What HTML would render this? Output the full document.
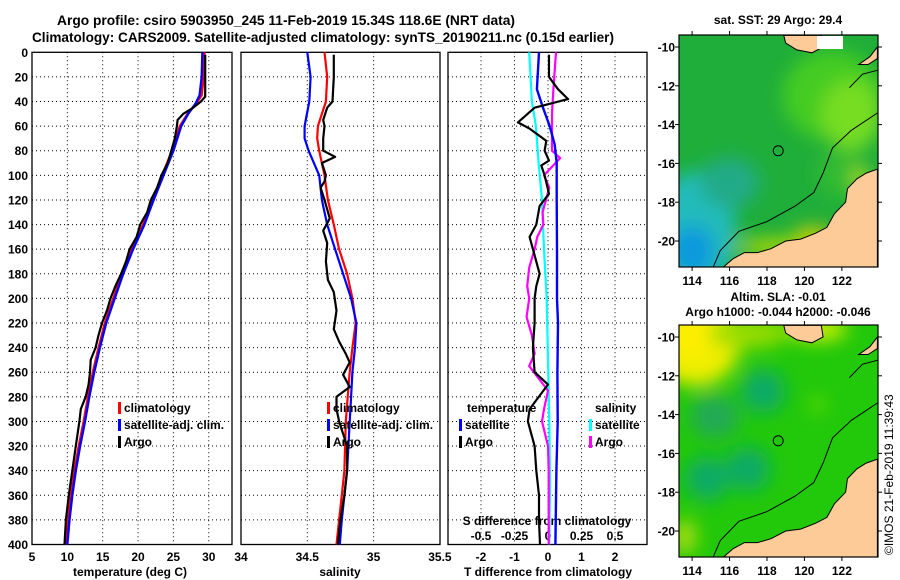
<!DOCTYPE html>
<html><head><meta charset="utf-8"><style>
html,body{margin:0;padding:0;background:#fff;}
svg{display:block;font-family:"Liberation Sans",sans-serif;font-weight:bold;}
</style></head><body>
<svg id="fig" width="900" height="580" viewBox="0 0 900 580" xmlns="http://www.w3.org/2000/svg">
<text x="57" y="25" font-size="13.5" textLength="458" lengthAdjust="spacingAndGlyphs">Argo profile: csiro 5903950_245 11-Feb-2019 15.34S 118.6E (NRT data)</text>
<text x="32" y="42" font-size="13.5" textLength="582" lengthAdjust="spacingAndGlyphs">Climatology: CARS2009. Satellite-adjusted climatology: synTS_20190211.nc (0.15d earlier)</text>
<text x="778" y="24" font-size="12" text-anchor="middle">sat. SST: 29 Argo: 29.4</text>
<text x="778" y="301" font-size="12" text-anchor="middle">Altim. SLA: -0.01</text>
<text x="778" y="316" font-size="12" text-anchor="middle">Argo h1000: -0.044 h2000: -0.046</text>
<text transform="translate(893,555) rotate(-90)" font-size="12" font-weight="normal">©IMOS 21-Feb-2019 11:39:43</text>
<g id="plots"></g>
<g id="maps"></g>
</svg>
<script>
// ---------- data ----------
const depthTicks = [0,20,40,60,80,100,120,140,160,180,200,220,240,260,280,300,320,340,360,380,400];
const tTicks = [5,10,15,20,25,30];
const sTicks = [34,34.5,35,35.5];
const sTickLabels = ["34","34.5","35","35.5"];
const dTTicks = [-2,-1,0,1,2];
const dSTicks = [-0.5,-0.25,0,0.25,0.5];
const dSTickLabels = ["-0.5","-0.25","0","0.25","0.5"];

const climTDepth = [0,20,35,42,50,60,80,100,120,140,160,180,200,220,240,260,280,300,320,340,360,380,400];
const climT = [29.4,29.3,29.0,28.2,27.0,25.9,24.8,23.4,22.0,20.7,19.1,17.7,16.5,15.3,14.4,13.6,12.9,12.3,11.6,11.0,10.5,10.1,9.8];
const satT = [29.1,29.0,28.7,28.1,27.1,26.1,25.0,23.6,22.2,20.9,19.3,17.9,16.7,15.5,14.6,13.8,13.1,12.5,11.8,11.2,10.7,10.3,10.0];
const argoTDepth = [2,20,36,40,45,50,55,60,70,80,90,100,110,120,130,140,150,160,170,180,190,200,210,220,230,240,250,260,270,280,290,300,320,340,360,380,400];
const argoT = [29.5,29.5,29.5,28.9,27.8,26.4,25.6,25.5,25.2,24.7,24.2,23.3,22.7,21.8,21.3,20.3,19.8,18.8,18.3,17.6,16.8,16.1,15.6,14.9,14.4,14.0,13.3,13.2,13.0,12.6,11.9,11.7,11.2,10.7,10.2,9.8,9.6];

const climSDepth = [0,20,40,60,70,80,100,120,140,160,180,200,220,240,260,280,300,320,340,360,380,400];
const climS = [34.63,34.65,34.64,34.58,34.575,34.59,34.63,34.655,34.70,34.74,34.80,34.84,34.865,34.84,34.82,34.805,34.79,34.785,34.78,34.76,34.74,34.72];
const satS = [34.50,34.525,34.515,34.48,34.48,34.51,34.59,34.61,34.65,34.71,34.77,34.83,34.87,34.86,34.84,34.83,34.82,34.81,34.80,34.78,34.76,34.745];
const argoSDepth = [2,20,40,45,55,60,70,80,85,90,100,105,110,120,135,145,155,170,185,195,210,225,235,245,252,262,272,280,290,300,310,320,340,360,380,400];
const argoS = [34.70,34.70,34.69,34.65,34.62,34.63,34.62,34.62,34.71,34.61,34.64,34.63,34.60,34.63,34.67,34.62,34.65,34.64,34.655,34.70,34.72,34.70,34.74,34.79,34.82,34.77,34.82,34.72,34.72,34.74,34.77,34.80,34.80,34.78,34.75,34.73];

const dTDepth = [2,10,20,30,38,45,57,62,72,80,88,92,100,115,125,140,150,165,180,190,200,220,240,260,270,290,300,320,340,360,380,400];
const argoDT = [0.03,0.03,0.03,0.3,0.6,-0.4,-0.9,-0.55,-0.05,-0.1,0.03,-0.2,-0.1,0.03,-0.25,-0.35,-0.55,-0.4,-0.25,-0.35,-0.4,-0.4,-0.45,-0.4,0,-0.55,-0.6,-0.4,-0.35,-0.27,-0.27,-0.24];
const satDTDepth = [0,30,45,60,75,90,120,160,200,220,260,300,340,400];
const satDT = [-0.27,-0.33,-0.15,0.05,0.2,0.26,0.26,0.27,0.27,0.3,0.28,0.29,0.25,0.22];
const satDSDepth = [0,40,60,90,120,160,200,300,350,400];
const satDS = [-0.14,-0.12,-0.09,-0.07,-0.045,-0.03,-0.01,0.01,0.015,0.01];
const argoDSDepth = [0,30,50,80,86,100,110,130,140,150,160,175,190,200,215,230,245,255,270,275,290,300,320,340,400];
const argoDS = [0.06,0.04,0.03,0.03,0.09,-0.03,0.01,-0.04,-0.035,-0.08,-0.1,-0.14,-0.155,-0.14,-0.16,-0.12,-0.1,-0.14,-0.035,0,-0.03,-0.045,0,0.005,0.005];

// ---------- helpers ----------
const NS = "http://www.w3.org/2000/svg";
const plots = document.getElementById('plots');
function el(tag, attrs, parent){ const e=document.createElementNS(NS,tag); for(const k in attrs) e.setAttribute(k,attrs[k]); (parent||plots).appendChild(e); return e; }
const yTop = 52.3, yBot = 544.5;
function yD(d){ return yTop + d*(yBot-yTop)/400; }
const p1 = {x0:32, x1:232}; const xT = t => 32 + (t-5)*7.07;
const p2 = {x0:241, x1:440}; const xS = s => 241 + (s-34)*132.6;
const p3 = {x0:448, x1:647}; const xDT = v => 548 + v*33.5; const xDS = v => 548 + v*134;

function frameAndGrid(p, vx, name){
  const g = el('g',{});
  
  
  depthTicks.forEach(d=>{ if(d>0&&d<400){ el('line',{x1:p.x0,x2:p.x1,y1:yD(d),y2:yD(d),stroke:'#000','stroke-width':1,'stroke-dasharray':'1 3'},g); } });
  vx.forEach(x=>{ if(x>p.x0+1&&x<p.x1-1){ el('line',{x1:x,x2:x,y1:yTop,y2:yBot,stroke:'#000','stroke-width':1,'stroke-dasharray':'1 3'},g);} });
  const r = el('rect',{x:p.x0,y:yTop,width:p.x1-p.x0,height:yBot-yTop,fill:'none',stroke:'#000','stroke-width':1.3});
  
  
}
function line(xs, ds, fx, color, w, name){
  const pts = xs.map((v,i)=> fx(v).toFixed(1)+','+yD(ds[i]).toFixed(1)).join(' ');
  const pl = el('polyline',{points:pts,fill:'none',stroke:color,'stroke-width':w,'stroke-linejoin':'round'});
  
  
}
function text(x,y,s,size,anchor,name,fill){
  const t = el('text',{x:x,y:y,'font-size':size,'text-anchor':anchor||'start',fill:fill||'#000'});
  t.textContent = s;
  
  
  return t;
}
function legendItem(x,y,color,label,name){
  const r = el('rect',{x:x,y:y-10,width:3,height:12,fill:color});
  
  
  text(x+6,y,label,12,'start',name+'-label');
}

// panel 1
frameAndGrid(p1, tTicks.map(xT), 'temperature-panel');
depthTicks.forEach(d=> text(28, yD(d)+4.5, String(d), 12, 'end', 'depth-tick-label'));
tTicks.forEach(t=> text(xT(t), 561, String(t), 12, 'middle', 'temperature-tick-label'));
text(130, 576, 'temperature (deg C)', 12, 'middle', 'temperature-axis-title');
line(climT, climTDepth, xT, '#ff0000', 2.2, 'temperature-climatology-line');
line(satT, climTDepth, xT, '#0000ff', 2.4, 'temperature-satellite-line');
line(argoT, argoTDepth, xT, '#000000', 2.2, 'temperature-argo-line');
legendItem(118,412,'#ff0000','climatology','legend-climatology');
legendItem(118,429,'#0000ff','satellite-adj. clim.','legend-satellite-adj');
legendItem(118,446,'#000000','Argo','legend-argo');

// panel 2
frameAndGrid(p2, sTicks.map(xS), 'salinity-panel');
sTicks.forEach((s,i)=> text(xS(s), 561, sTickLabels[i], 12, 'middle', 'salinity-tick-label'));
text(340, 576, 'salinity', 12, 'middle', 'salinity-axis-title');
line(climS, climSDepth, xS, '#ff0000', 2.2, 'salinity-climatology-line');
line(satS, climSDepth, xS, '#0000ff', 2.2, 'salinity-satellite-line');
line(argoS, argoSDepth, xS, '#000000', 2.2, 'salinity-argo-line');
legendItem(327,412,'#ff0000','climatology','legend2-climatology');
legendItem(327,429,'#0000ff','satellite-adj. clim.','legend2-satellite-adj');
legendItem(327,446,'#000000','Argo','legend2-argo');

// panel 3
frameAndGrid(p3, dTTicks.map(xDT), 'difference-panel');
dTTicks.forEach(v=> text(xDT(v), 561, String(v), 12, 'middle', 't-diff-tick-label'));
text(548, 576, 'T difference from climatology', 12, 'middle', 't-diff-axis-title');
text(547, 525, 'S difference from climatology', 12, 'middle', 's-diff-axis-title');
dSTicks.forEach((v,i)=> text(xDS(v), 540, dSTickLabels[i], 12, 'middle', 's-diff-tick-label'));
line(satDS, satDSDepth, xDS, '#00ffff', 2.2, 's-diff-satellite-line');
line(argoDS, argoDSDepth, xDS, '#ff00ff', 2.2, 's-diff-argo-line');
line(satDT, satDTDepth, xDT, '#0000ff', 2.4, 't-diff-satellite-line');
line(argoDT, dTDepth, xDT, '#000000', 2.2, 't-diff-argo-line');
text(467, 412, 'temperature', 12, 'start', 'legend3-temperature-heading');
legendItem(459,429,'#0000ff','satellite','legend3-t-satellite');
legendItem(459,446,'#000000','Argo','legend3-t-argo');
text(595, 412, 'salinity', 12, 'start', 'legend3-salinity-heading');
legendItem(589,429,'#00ffff','satellite','legend3-s-satellite');
legendItem(589,446,'#ff00ff','Argo','legend3-s-argo');

// ---------- maps ----------
const maps = document.getElementById('maps');
const lonTicks = [114,116,118,120,122];
const latTicks = [-10,-12,-14,-16,-18,-20];
const ausCoast = [[115.6,-21.4],[116.2,-20.9],[116.8,-20.6],[117.5,-20.6],[118.2,-20.4],[119,-20.0],[119.8,-19.9],[120.6,-19.6],[121.2,-19.3],[121.6,-18.6],[122.2,-18.0],[122.3,-17.3],[122.8,-16.8],[123.3,-16.5],[123.9,-16.3],[123.9,-21.4]];
const sumba = [[118.9,-9.4],[120.9,-9.4],[121.0,-10.0],[120.4,-10.3],[119.6,-10.15],[119.0,-9.8]];
const timor = [[122.9,-10.9],[123.5,-10.5],[123.9,-10.0],[123.9,-10.6],[123.4,-10.9]];
const isobath = [[115.1,-21.4],[115.5,-20.5],[116.5,-19.5],[118,-19.0],[119.5,-18.2],[120.5,-17.5],[121,-16.5],[121.5,-15.2],[122.5,-14.3],[123.9,-13.4]];
const isobath2 = [[122.4,-12.1],[123.1,-11.4],[123.9,-11.2]];
const floatPos = [118.6,-15.35];

function drawMap(top, name, bg, blobs){
  const g = document.createElementNS(NS,'g'); maps.appendChild(g);
  
  
  const X0=679, X1=878, Y0=top, Y1=top+232;
  const px = lon => X0 + (lon-113.3)*18.72;
  const py = lat => top + 12 + (-10-lat)*19.4;
  const cid = name+'-clip';
  const defs = el('defs',{},g);
  const cp = el('clipPath',{id:cid},defs); el('rect',{x:X0,y:Y0,width:X1-X0,height:Y1-Y0},cp);
  const f = el('filter',{id:name+'-blur',x:'-50%',y:'-50%',width:'200%',height:'200%'},defs); el('feGaussianBlur',{stdDeviation:9},f);
  const inner = el('g',{'clip-path':'url(#'+cid+')'},g);
  el('rect',{x:X0,y:Y0,width:X1-X0,height:Y1-Y0,fill:bg},inner);
  const bl = el('g',{filter:'url(#'+name+'-blur)'},inner);
  blobs.forEach(b=> el('ellipse',{cx:px(b[0]),cy:py(b[1]),rx:b[2],ry:b[3],fill:b[4]},bl));
  const poly = (pts,fill,stroke,nm)=>{ const p=el('polygon',{points:pts.map(q=>px(q[0]).toFixed(1)+','+py(q[1]).toFixed(1)).join(' '),fill:fill,stroke:stroke,'stroke-width':1},inner);   };
  poly(ausCoast,'#fccb97','#000','australia-land');
  poly(sumba,'#fccb97','#000','sumba-island');
  poly(timor,'#fccb97','#000','timor-island');
  [isobath,isobath2].forEach(ib=>{ const p=el('polyline',{points:ib.map(q=>px(q[0]).toFixed(1)+','+py(q[1]).toFixed(1)).join(' '),fill:'none',stroke:'#000','stroke-width':1},inner);   });
  const c = el('circle',{cx:px(floatPos[0]),cy:py(floatPos[1]),r:5,fill:'none',stroke:'#000','stroke-width':1},inner);
  
  
  el('rect',{x:X0,y:Y0,width:X1-X0,height:Y1-Y0,fill:'none',stroke:'#000','stroke-width':1.2},g);
  lonTicks.forEach(l=>{ el('line',{x1:px(l),x2:px(l),y1:Y1,y2:Y1+4,stroke:'#000'},g); el('line',{x1:px(l),x2:px(l),y1:Y0,y2:Y0-4,stroke:'#000'},g);
    const t=el('text',{x:px(l),y:Y1+18,'font-size':12,'text-anchor':'middle'},g); t.textContent=String(l);   });
  latTicks.forEach(l=>{ el('line',{x1:X0-4,x2:X0,y1:py(l),y2:py(l),stroke:'#000'},g); el('line',{x1:X1,x2:X1+4,y1:py(l),y2:py(l),stroke:'#000'},g);
    const t=el('text',{x:X0-4,y:py(l)+4.5,'font-size':12,'text-anchor':'end'},g); t.textContent=String(l);   });
}
drawMap(35,'sst-map','#1fae3a',[
  [114.2,-19.5,40,60,'#22bbbb'],[114.0,-20.5,22,25,'#1199dd'],[116,-17,30,25,'#22aa88'],
  [121.5,-12.5,50,45,'#44cc22'],[122.5,-13.5,30,35,'#77dd22'],[122,-16.5,25,25,'#33bb33'],[119,-20.3,50,8,'#bbdd00'],[120.5,-19.6,20,6,'#ddcc00'],[123,-16.8,8,12,'#aadd22']]);
// white missing-data patch
(function(){ const r=document.createElementNS(NS,'rect'); r.setAttribute('x',817); r.setAttribute('y',36); r.setAttribute('width',26); r.setAttribute('height',13); r.setAttribute('fill','#fff'); maps.appendChild(r);

 })();
drawMap(325,'sla-map','#22c80a',[
  [114.2,-10.2,45,45,'#eeee00'],[114.0,-10.0,20,20,'#ffee00'],[117,-9.8,40,15,'#99dd00'],[120.7,-9.6,30,12,'#ccee00'],
  [117.8,-12.8,22,22,'#11aa66'],[115.2,-14.1,25,22,'#22aa55'],[117,-16.8,22,22,'#11aa66'],[114.8,-17.3,22,22,'#11aa66'],
  [113.6,-20.3,12,18,'#aadd11'],[120.7,-13.5,8,8,'#66dd00']]);
</script>
</body></html>
